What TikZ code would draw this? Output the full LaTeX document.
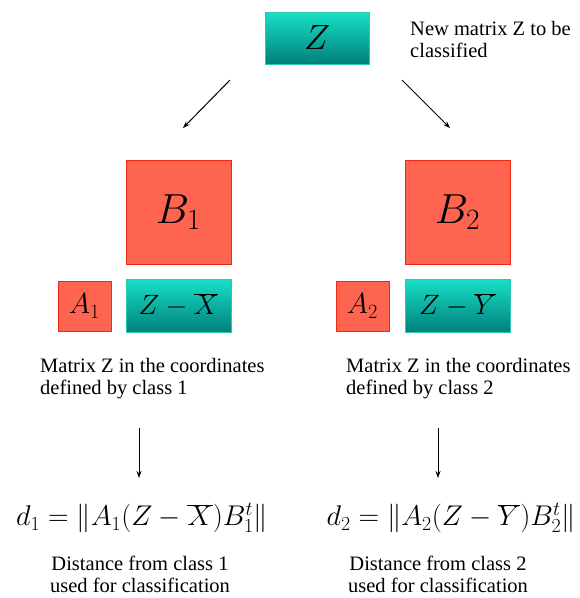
\RequirePackage{fix-cm}
\documentclass[tikz,border=0pt]{standalone}
\usepackage{fontspec}
\setmainfont{Liberation Serif}
\usetikzlibrary{arrows.meta}
\definecolor{tealtop}{HTML}{18E0C8}
\definecolor{tealbot}{HTML}{00807A}
\definecolor{tealline}{HTML}{2CC8B0}
\definecolor{redfill}{HTML}{FF6450}
\definecolor{redline}{HTML}{F02A10}
\begin{document}
\begin{tikzpicture}[x=1pt,y=-1pt,
  tealbox/.style={draw=tealline,line width=1pt,top color=tealtop,bottom color=tealbot,inner sep=0pt},
  redbox/.style={draw=redline,line width=1pt,fill=redfill,inner sep=0pt},
  lbl/.style={align=left,inner sep=0pt,font=\fontsize{20.5}{22}\selectfont},
  clbl/.style={align=center,inner sep=0pt,font=\fontsize{20.5}{22}\selectfont},
  arr/.style={-{Stealth[length=7pt,width=5pt]},line width=1pt}]
\useasboundingbox (0,0) rectangle (580,598);
\node[tealbox,minimum width=104pt,minimum height=52pt] (Z) at (317,38) {\fontsize{35}{40}\selectfont$Z$};
\node[lbl,anchor=north west] (ztxt) at (410,21) {New matrix Z to be\\classified};
\node[redbox,minimum width=105pt,minimum height=104pt] (B1) at (178.5,212) {\fontsize{42}{46}\selectfont$B_1$};
\node[redbox,minimum width=105pt,minimum height=104pt] (B2) at (457.5,212) {\fontsize{42}{46}\selectfont$B_2$};
\node[redbox,minimum width=53pt,minimum height=50pt] (A1) at (84.5,306) {\fontsize{29}{30}\selectfont$A_1$};
\node[redbox,minimum width=53pt,minimum height=50pt] (A2) at (362.5,306) {\fontsize{29}{30}\selectfont$A_2$};
\node[tealbox,minimum width=105pt,minimum height=53pt] (ZX) at (178.5,305.5) {\fontsize{28}{30}\selectfont$Z-\overline{X}$};
\node[tealbox,minimum width=105pt,minimum height=53pt] (ZY) at (457.5,305.5) {\fontsize{28}{30}\selectfont$Z-\overline{Y}$};
\node[lbl,anchor=north west] (m1) at (40,358) {Matrix Z in the coordinates\\defined by class 1};
\node[lbl,anchor=north west] (m2) at (346,358) {Matrix Z in the coordinates\\defined by class 2};
\node[inner sep=0pt] (d1) at (142,518) {\fontsize{28.5}{30}\selectfont$d_1=\|A_1(Z-\overline{X})B_1^t\|$};
\node[inner sep=0pt] (d2) at (451,518) {\fontsize{28.5}{30}\selectfont$d_2=\|A_2(Z-\overline{Y})B_2^t\|$};
\node[clbl] (t1) at (140,574) {Distance from class 1\\used for classification};
\node[clbl] (t2) at (438,574) {Distance from class 2\\used for classification};
\coordinate (a1s) at (230,80); \coordinate (a1e) at (183,128);
\coordinate (a2s) at (402,80); \coordinate (a2e) at (450,128);
\coordinate (a3s) at (139,428); \coordinate (a3e) at (139,478);
\coordinate (a4s) at (438,428); \coordinate (a4e) at (438,478);
\draw[arr] (a1s) -- (a1e);
\draw[arr] (a2s) -- (a2e);
\draw[arr] (a3s) -- (a3e);
\draw[arr] (a4s) -- (a4e);
\end{tikzpicture}
\end{document}
